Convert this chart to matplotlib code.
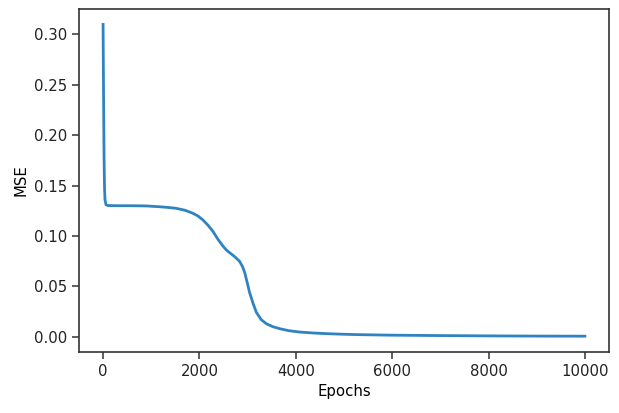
import matplotlib
matplotlib.use("Agg")
import matplotlib.pyplot as plt

# Curva de treino (época, MSE)
epocas = [0, 10, 20, 30, 40, 60, 100, 300, 600, 900, 1170, 1350, 1510, 1700,
          1860, 1970, 2070, 2180, 2280, 2380, 2490, 2560, 2630, 2730, 2830,
          2890, 2940, 2990, 3040, 3110, 3180, 3280, 3390, 3520, 3670, 3850,
          4080, 4350, 4640, 5000, 5330, 6000, 7000, 8000, 9000, 10000]
mse = [0.310, 0.240, 0.180, 0.148, 0.136, 0.131, 0.1302, 0.1300, 0.1300,
       0.1298, 0.1290, 0.1283, 0.1275, 0.1255, 0.1226, 0.1198, 0.1160,
       0.1105, 0.1046, 0.0970, 0.0898, 0.0860, 0.0833, 0.0795, 0.0750,
       0.0700, 0.0636, 0.0540, 0.0440, 0.0335, 0.0243, 0.0170, 0.0128,
       0.0100, 0.0079, 0.0060, 0.0046, 0.0037, 0.0030, 0.0024, 0.0020,
       0.0015, 0.0011, 0.0008, 0.0006, 0.0005]

plt.rcParams.update({"font.size": 10.7})

fig = plt.figure(figsize=(6.19, 4.13), dpi=100)
ax = fig.add_axes([0.1276, 0.1477, 0.8562, 0.8305])
ax.plot(epocas, mse, color="#2f83c0", linewidth=2.0)
ax.set_xlabel("Epochs")
ax.set_ylabel("MSE")
ax.set_xlim(-500, 10500)
ax.set_ylim(-0.0152, 0.3253)
ax.set_xticks([0, 2000, 4000, 6000, 8000, 10000])
ax.set_yticks([0.0, 0.05, 0.10, 0.15, 0.20, 0.25, 0.30])
ax.set_yticklabels(["0.00", "0.05", "0.10", "0.15", "0.20", "0.25", "0.30"])
for s in ax.spines.values():
    s.set_color("#333333")
    s.set_linewidth(1.2)
ax.tick_params(length=5, width=1.1, color="#333333", labelcolor="#222222")

plt.savefig("out.png", dpi=100)
plt.close()
